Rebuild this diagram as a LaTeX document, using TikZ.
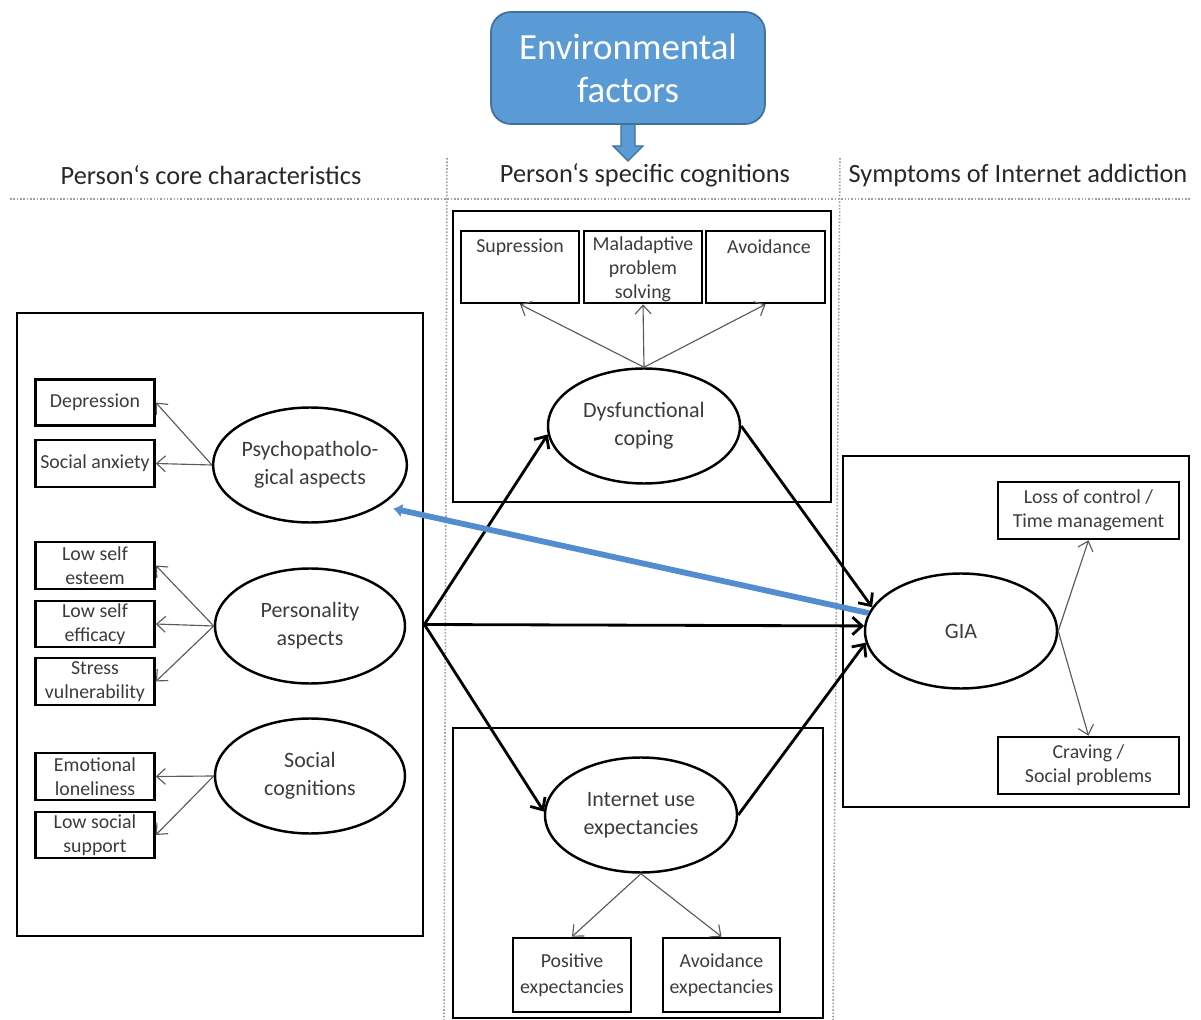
\documentclass[tikz,border=0pt]{standalone}
\usepackage{fontspec}
\setmainfont{Carlito}
\usetikzlibrary{shapes.geometric,arrows.meta,calc}
\definecolor{txt}{RGB}{60,60,60}
\definecolor{headtxt}{RGB}{40,40,40}
\definecolor{arrowgray}{RGB}{90,90,90}
\definecolor{envblue}{RGB}{91,155,213}
\definecolor{envedge}{RGB}{65,113,156}
\definecolor{linkblue}{RGB}{84,141,207}
\definecolor{sepgray}{RGB}{160,160,160}
\tikzset{
  sz/.style 2 args={minimum width=#1*0.02cm, minimum height=#2*0.02cm},
  frame/.style={draw=black, line width=1.6pt, inner sep=0pt},
  itembox/.style={draw=black, line width=1.5pt, inner sep=0pt, align=center,
    font=\fontsize{11.3}{13.6}\selectfont, text=txt},
  lbl/.style={inner sep=0pt, align=center, font=\fontsize{11.3}{13.6}\selectfont, text=txt},
  latent/.style={ellipse, draw=black, line width=1.4pt, inner sep=0pt,
    minimum width=192*0.02cm, minimum height=115*0.02cm, align=center,
    font=\fontsize{12.5}{15.9}\selectfont, text=txt},
  header/.style={inner sep=0pt, font=\fontsize{15}{18}\selectfont, text=headtxt},
  sepline/.style={draw=sepgray, line width=0.9pt, densely dotted},
  thinarrow/.style={-{Straight Barb[length=5pt,width=9pt]}, draw=arrowgray, line width=0.65pt},
  thickarrow/.style={-{Straight Barb[length=5.5pt,width=10pt,line width=1.6pt]}, line width=1.6pt},
  bluearrow/.style={-{Latex[length=5pt,width=8pt]}, draw=linkblue, line width=3.3pt},
}
\begin{document}
\begin{tikzpicture}[x=0.02cm,y=-0.02cm]
\useasboundingbox (0,0) rectangle (1201,1020);

% column separators
\draw[sepline] (10,199) -- (1190,199);
\draw[sepline] (447,158) -- (444,1020);
\draw[sepline] (840,158) -- (833,1020);

% column headings
\node[header] (h1) at (211,175) {Person‘s core characteristics};
\node[header] (h2) at (645,175) {Person‘s specific cognitions};
\node[header] (h3) at (1018,175) {Symptoms of Internet addiction};

% environmental factors and its block arrow
\filldraw[fill=envblue, draw=envedge, line width=0.8pt]
  (621,120) -- (635,120) -- (635,146) -- (643,146) -- (628,161) -- (613,146) -- (621,146) -- cycle;
\node[draw=envedge, fill=envblue, line width=1pt, rounded corners=0.4cm, sz={274}{112},
  inner sep=0pt, align=center, text=white, font=\fontsize{21}{24.5}\selectfont] (env) at (628,68)
  {Environmental\\factors};

% core characteristics
\node[frame, sz={406}{623}] (core) at (220,624.5) {};
\node[itembox, sz={119}{46}] (dep) at (95,402.5) {Depression};
\node[itembox, sz={119}{47}] (sa) at (95,463.5) {Social anxiety};
\node[itembox, sz={119}{47}] (lse) at (95,565.5) {Low self\\esteem};
\node[itembox, sz={119}{46}] (lsf) at (95,624) {Low self\\efficacy};
\node[itembox, sz={119}{47}] (sv) at (95,681.5) {Stress\\vulnerability};
\node[itembox, sz={119}{47}] (eml) at (95,776.5) {Emotional\\loneliness};
\node[itembox, sz={119}{46}] (lss) at (95,835) {Low social\\support};

\node[latent, minimum width=190*0.02cm] (psy) at (310,465) {Psychopatholo-\\gical aspects};
\node[latent, minimum width=190*0.02cm] (per) at (310,626) {Personality\\aspects};
\node[latent, minimum width=190*0.02cm] (soc) at (310,776) {Social\\cognitions};

\draw[thinarrow] (psy.west) -- (dep.east);
\draw[thinarrow] (psy.west) -- (sa.east);
\draw[thinarrow] (per.west) -- (lse.east);
\draw[thinarrow] (per.west) -- (lsf.east);
\draw[thinarrow] (per.west) -- (sv.east);
\draw[thinarrow] (soc.west) -- (eml.east);
\draw[thinarrow] (soc.west) -- (lss.east);

% specific cognitions: coping
\node[frame, sz={378}{291}] (copebox) at (642,356.5) {};
\node[itembox, sz={118}{72}] (sup) at (520,267) {};
\node[itembox, sz={118}{72}] (mal) at (643,267) {};
\node[itembox, sz={119}{72}] (avo) at (765.5,267) {};
\node[lbl] (supT) at (520,247) {Supression};
\node[lbl] (malT) at (643,269.5) {Maladaptive\\problem\\solving};
\node[lbl] (avoT) at (769,247) {Avoidance};

\node[latent] (dys) at (644,426) {Dysfunctional\\coping};
\draw[thinarrow] (dys.north) -- (sup.south);
\draw[thinarrow] (dys.north) -- (mal.south);
\draw[thinarrow] (dys.north) -- (avo.south);

% specific cognitions: expectancies
\node[frame, sz={370}{290}] (expbox) at (638,873) {};
\node[latent] (iue) at (641,815) {Internet use\\expectancies};
\node[itembox, sz={118}{74}, font=\fontsize{11.3}{14.7}\selectfont] (pos) at (572,975) {Positive\\expectancies};
\node[itembox, sz={117}{74}, font=\fontsize{11.3}{14.7}\selectfont] (ave) at (721.5,975) {Avoidance\\expectancies};
\draw[thinarrow] (iue.south) -- (pos.north);
\draw[thinarrow] (iue.south) -- (ave.north);

% symptoms
\node[frame, sz={346}{351}] (symbox) at (1016,631.5) {};
\node[latent] (gia) at (961,631) {GIA};
\node[itembox, sz={181}{57}] (loss) at (1088.5,510.5) {Loss of control /\\Time management};
\node[itembox, sz={181}{57}] (crav) at (1088.5,765.5) {Craving /\\Social problems};
\draw[thinarrow] (gia.east) -- (loss.south);
\draw[thinarrow] (gia.east) -- (crav.north);

% structural paths
\draw[thickarrow] (core.east) -- (dys.185);
\draw[thickarrow] (core.east) -- (gia.177);
\draw[thickarrow] (core.east) -- (iue.178);
\draw[thickarrow] (dys.east) -- (gia.165);
\draw[thickarrow] (iue.east) -- (gia.187);

% feedback from symptoms to core characteristics
\draw[bluearrow, shorten >=0.26cm] (gia.169) -- (psy.330);
\end{tikzpicture}
\end{document}
